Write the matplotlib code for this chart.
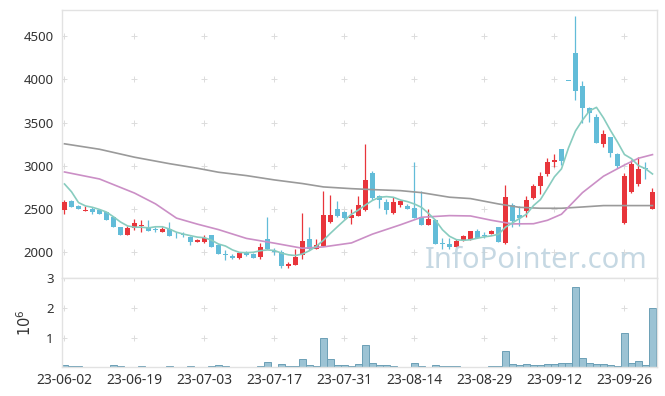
import numpy as np
import matplotlib
matplotlib.use('Agg')
import matplotlib.pyplot as plt
from matplotlib.ticker import FuncFormatter

plt.rcParams['font.family'] = ['Noto Sans', 'DejaVu Sans']

# ---------- 資料 (日線 OHLC) ----------
opens = [2490, 2594, 2536, 2480, 2500, 2489, 2463, 2408, 2293, 2204,
         2281, 2305, 2285, 2270, 2240, 2270, 2200, 2202, 2175, 2113,
         2121, 2200, 2084, 1978, 1957, 1932, 1988, 1975, 1940, 2154,
         2010, 2000, 1841, 1853, 1973, 2154, 2035, 2073, 2351, 2501,
         2470, 2401, 2420, 2490, 2921, 2652, 2586, 2451, 2547, 2540,
         2509, 2405, 2316, 2374, 2105, 2100, 2058, 2142, 2142, 2247,
         2192, 2208, 2296, 2111, 2547, 2432, 2482, 2625, 2767, 2903,
         3041, 3196, 3980, 4310, 3925, 3667, 3570, 3253, 3338, 3137,
         2343, 2701, 2791, 2972, 2498]
highs = [2605, 2600, 2545, 2540, 2524, 2500, 2470, 2415, 2295, 2300,
         2382, 2374, 2374, 2290, 2290, 2351, 2230, 2240, 2192, 2150,
         2200, 2205, 2090, 2027, 1975, 2005, 2020, 1990, 2108, 2405,
         2050, 2023, 1888, 2035, 2455, 2296, 2154, 2709, 2659, 2590,
         2480, 2497, 2652, 3253, 2945, 2663, 2620, 2643, 2609, 2560,
         3041, 2709, 2501, 2380, 2162, 2162, 2154, 2200, 2250, 2266,
         2235, 2262, 2296, 2779, 2570, 2536, 2652, 2790, 2933, 3095,
         3134, 3196, 3980, 4735, 3982, 3686, 3600, 3415, 3338, 3150,
         2914, 3068, 3107, 3048, 2740]
lows = [2445, 2520, 2495, 2475, 2446, 2440, 2375, 2290, 2204, 2204,
        2258, 2238, 2250, 2230, 2238, 2185, 2170, 2175, 2080, 2113,
        2111, 2065, 1977, 1910, 1920, 1925, 1955, 1930, 1922, 2035,
        1968, 1818, 1818, 1853, 1919, 2027, 2035, 2073, 2343, 2413,
        2390, 2324, 2420, 2478, 2605, 2509, 2443, 2443, 2521, 2495,
        2393, 2316, 2316, 2093, 2038, 2038, 2058, 2135, 2142, 2162,
        2162, 2208, 2123, 2096, 2296, 2304, 2408, 2620, 2671, 2887,
        2984, 3010, 3980, 3760, 3493, 3512, 3262, 3222, 3107, 2980,
        2328, 2690, 2767, 2845, 2498]
closes = [2585, 2528, 2500, 2492, 2466, 2447, 2377, 2296, 2204, 2281,
          2339, 2315, 2250, 2258, 2265, 2189, 2195, 2198, 2121, 2138,
          2169, 2065, 1980, 1972, 1936, 1992, 1966, 1938, 2065, 2042,
          2005, 1841, 1865, 1946, 2131, 2038, 2084, 2432, 2432, 2420,
          2401, 2432, 2547, 2837, 2625, 2605, 2490, 2586, 2594, 2501,
          2393, 2316, 2382, 2093, 2096, 2058, 2131, 2189, 2247, 2169,
          2186, 2250, 2123, 2636, 2366, 2401, 2605, 2767, 2887, 3041,
          3068, 3060, 3980, 3870, 3667, 3609, 3262, 3366, 3146, 2999,
          2883, 3022, 2964, 2960, 2694]

# ---------- 移動平均線 ----------
ma5 = [2790, 2700, 2575, 2536, 2520, 2495, 2465, 2410, 2350, 2305,
       2290, 2290, 2282, 2295, 2295, 2268, 2232, 2210, 2192, 2175,
       2168, 2140, 2095, 2072, 2027, 1998, 1995, 2000, 2018, 2027,
       2020, 1990, 1970, 1962, 1980, 2018, 2070, 2140, 2220, 2296,
       2370, 2440, 2490, 2547, 2600, 2636, 2644, 2636, 2605, 2586,
       2558, 2520, 2450, 2370, 2260, 2185, 2145, 2138, 2145, 2163,
       2178, 2190, 2208, 2290, 2340, 2390, 2440, 2540, 2610, 2740,
       2874, 2965, 3207, 3404, 3529, 3637, 3677, 3555, 3410, 3276,
       3131, 3083, 3003, 2967, 2906]
ma20_idx = [0, 5, 10, 13, 16, 19, 22, 26, 30, 34, 37, 41, 44, 48,
            51, 55, 58, 61, 64, 67, 69, 71, 74, 77, 80, 82, 84]
ma20 = [2929, 2848, 2685, 2560, 2395, 2325, 2262, 2160, 2105, 2046,
        2062, 2108, 2210, 2318, 2405, 2424, 2420, 2370, 2328, 2330,
        2370, 2440, 2690, 2880, 3010, 3088, 3130]
ma60_idx = [0, 5, 10, 15, 19, 22, 26, 30, 34, 37, 41, 44, 48, 51,
            55, 58, 62, 65, 68, 71, 74, 77, 84]
ma60 = [3255, 3192, 3100, 3025, 2972, 2926, 2887, 2837, 2795, 2756,
        2736, 2725, 2713, 2690, 2637, 2621, 2559, 2520, 2509, 2509,
        2524, 2540, 2540]

# ---------- 成交量 ----------
volume = [67e3, 33e3, 33e3, 4e3, 4e3, 4e3, 4e3, 67e3, 33e3, 4e3,
          4e3, 33e3, 4e3, 4e3, 4e3, 33e3, 4e3, 4e3, 33e3, 4e3,
          4e3, 33e3, 67e3, 33e3, 4e3, 4e3, 4e3, 4e3, 33e3, 178e3,
          4e3, 100e3, 33e3, 33e3, 267e3, 67e3, 33e3, 1.0e6, 267e3, 67e3,
          67e3, 33e3, 100e3, 733e3, 133e3, 67e3, 67e3, 33e3, 4e3, 4e3,
          133e3, 33e3, 4e3, 67e3, 33e3, 33e3, 33e3, 4e3, 4e3, 4e3,
          4e3, 33e3, 33e3, 533e3, 100e3, 67e3, 100e3, 67e3, 67e3, 100e3,
          100e3, 133e3, 133e3, 2.7e6, 300e3, 133e3, 100e3, 100e3, 67e3, 33e3,
          1.167e6, 133e3, 200e3, 67e3, 2.0e6]

tick_labels = ['23-06-02', '23-06-19', '23-07-03', '23-07-17', '23-07-31',
               '23-08-14', '23-08-29', '23-09-12', '23-09-26']

# ---------- 顏色 ----------
UP = '#e8353b'
DOWN = '#62bcd8'
GRID = '#dcdcdc'
BORDER = '#e2e2e2'

o = np.array(opens)
h = np.array(highs)
l = np.array(lows)
c = np.array(closes)
idx = np.arange(len(o))
colors = [UP if cc > oo else DOWN for oo, cc in zip(o, c)]
xticks = np.arange(0, len(o), 10)

fig = plt.figure(figsize=(6.65, 3.96), dpi=100)
ax = fig.add_axes([0.0932, 0.2980, 0.8947, 0.6768])
axv = fig.add_axes([0.0932, 0.0725, 0.8947, 0.2255], sharex=ax)

# 蠟燭圖
ax.vlines(idx, l, h, colors=colors, linewidth=0.9, zorder=2)
body_bottom = np.minimum(o, c)
body_height = np.maximum(np.abs(c - o), 10)
ax.bar(idx, body_height, bottom=body_bottom, width=0.65, color=colors,
       linewidth=0, zorder=3)

ax.plot(ma60_idx, ma60, color='#9a9a9a', linewidth=1.2, zorder=4)
ax.plot(ma20_idx, ma20, color='#cb8fc6', linewidth=1.2, zorder=4)
ax.plot(idx, ma5, color='#88ccbf', linewidth=1.2, zorder=4)

ax.set_xlim(-0.36, 84.64)
ax.set_ylim(1702, 4804)
yt = [2000, 2500, 3000, 3500, 4000, 4500]
ax.set_yticks(yt)
gx, gy = np.meshgrid(xticks, yt)
ax.scatter(gx.ravel(), gy.ravel(), marker='+', s=18, color=GRID,
           linewidths=0.7, zorder=1)

ax.text(0.985, 0.037, 'InfoPointer.com', transform=ax.transAxes,
        ha='right', va='baseline', fontsize=21, color='#bcd2de',
        alpha=0.85, zorder=6)

# 成交量
axv.bar(idx, volume, width=0.95, color='#9cc3d4', edgecolor='#6b9fb6',
        linewidth=0.7, zorder=2)
axv.set_ylim(0, 3e6)
vt = [1e6, 2e6, 3e6]
axv.set_yticks(vt)
axv.yaxis.set_major_formatter(FuncFormatter(lambda v, p: f"{v / 1e6:.0f}"))
vx, vy = np.meshgrid(xticks, vt)
axv.scatter(vx.ravel(), vy.ravel(), marker='+', s=18, color=GRID,
            linewidths=0.7, zorder=1)
axv.set_ylabel(r'$10^6$', fontsize=10.5, color='#333333', labelpad=8)

axv.set_xticks(xticks)
axv.set_xticklabels(tick_labels)

for a in (ax, axv):
    for s in a.spines.values():
        s.set_color(BORDER)
        s.set_linewidth(1)
    a.tick_params(length=0, labelsize=9.5, colors='#333333', pad=6)
ax.tick_params(labelbottom=False)
axv.tick_params(axis='x', pad=4, labelsize=10)

plt.savefig('out.png', dpi=100)
